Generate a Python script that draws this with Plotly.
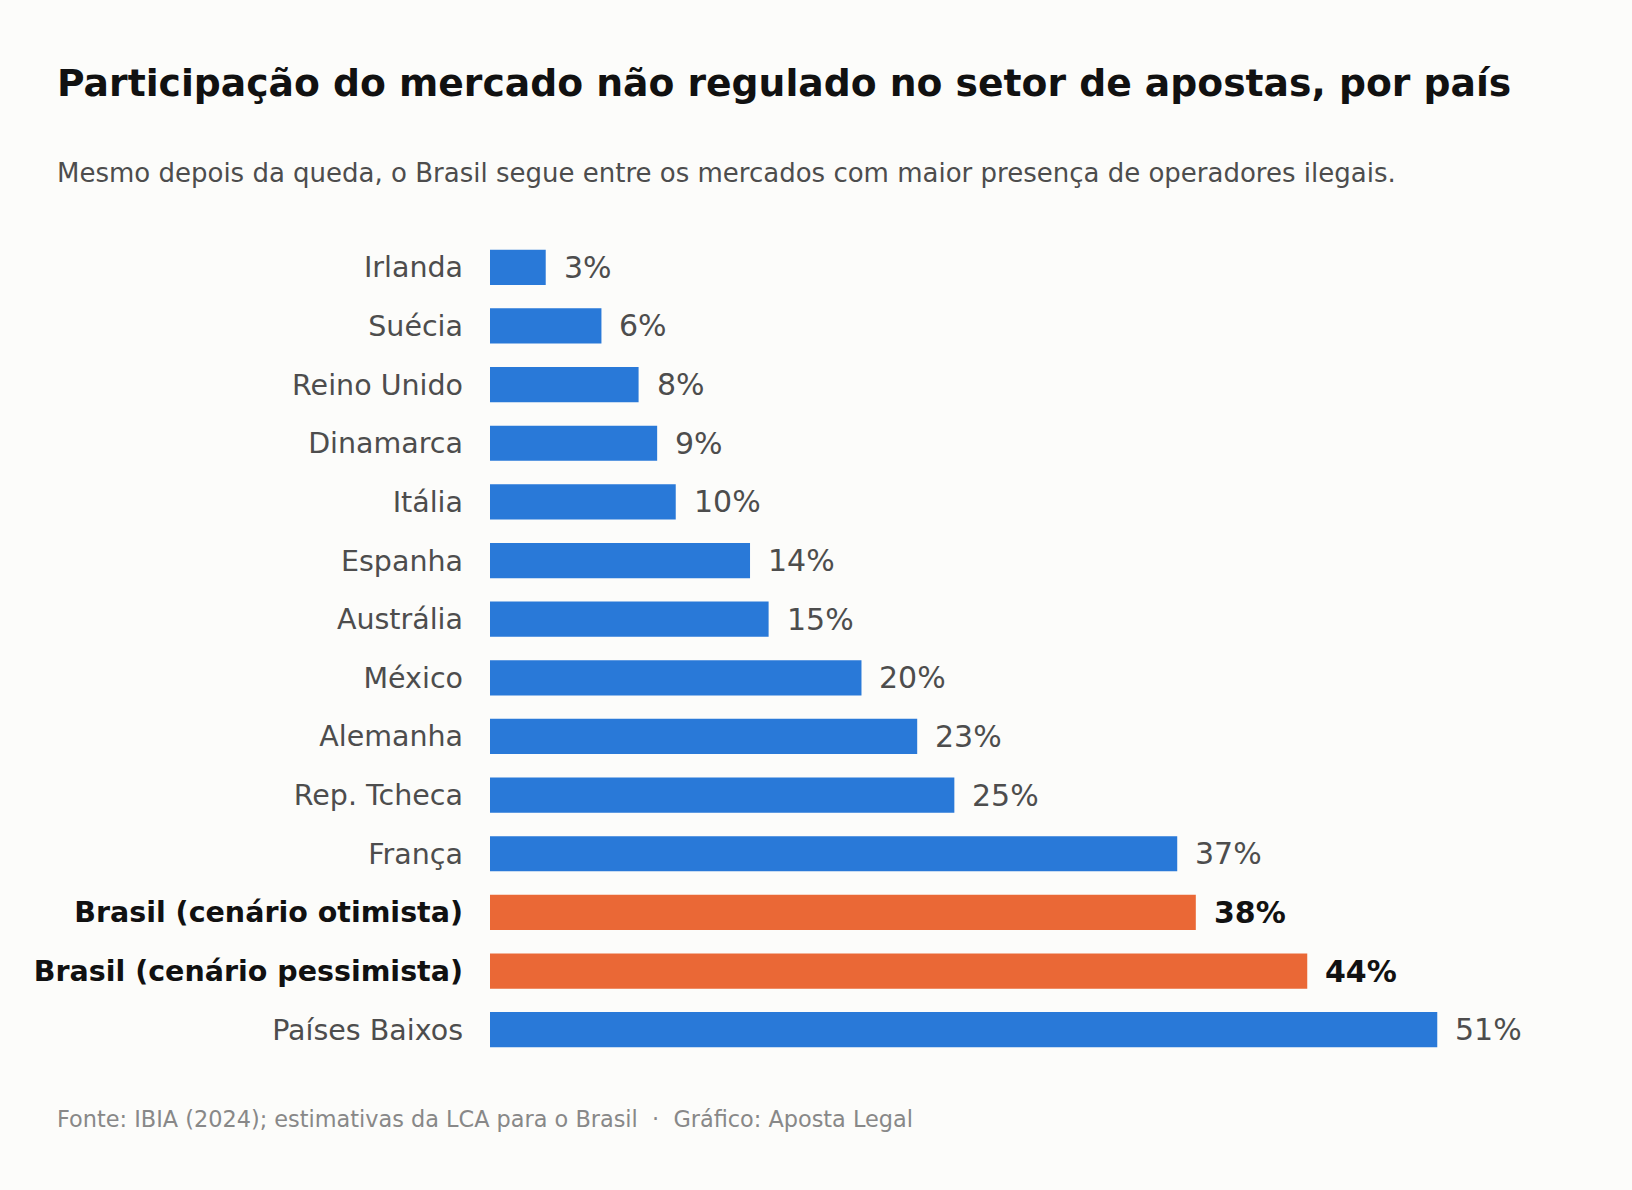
import plotly.graph_objects as go

# data, top to bottom as drawn
paises = ["Irlanda", "Suécia", "Reino Unido", "Dinamarca", "Itália", "Espanha",
          "Austrália", "México", "Alemanha", "Rep. Tcheca", "França",
          "Brasil (cenário otimista)", "Brasil (cenário pessimista)", "Países Baixos"]
valores = [3, 6, 8, 9, 10, 14, 15, 20, 23, 25, 37, 38, 44, 51]
destaque = [p.startswith("Brasil") for p in paises]

azul = "#2979d8"
laranja = "#ea6836"
cinza = "#4d4d4d"
fundo = "#fcfcfa"

cores = [laranja if d else azul for d in destaque]
ticks = [f"<b style='color:#111'>{p}</b>" if d else p for p, d in zip(paises, destaque)]

fig = go.Figure()
fig.add_trace(go.Bar(
    x=valores, y=paises, orientation="h",
    marker=dict(color=cores, line_width=0),
    width=0.6, hoverinfo="skip",
))

# value labels right of each bar
for p, v, d in zip(paises, valores, destaque):
    fig.add_annotation(
        x=v, y=p, text=f"<b>{v}%</b>" if d else f"{v}%",
        xanchor="left", xshift=16, showarrow=False,
        font=dict(size=30, color="#111" if d else cinza),
    )

fig.update_layout(
    width=1632, height=1190,
    paper_bgcolor=fundo, plot_bgcolor=fundo,
    margin=dict(l=490, r=35, t=238, b=131),
    font=dict(family="DejaVu Sans", color=cinza),
    showlegend=False,
    xaxis=dict(range=[0, 59.6], visible=False),
    yaxis=dict(
        autorange="reversed", tickmode="array", tickvals=paises, ticktext=ticks,
        tickfont=dict(size=28.5, color=cinza), ticklabelstandoff=26,
        showgrid=False, zeroline=False, showline=False, ticks="",
    ),
)

# header and footer, placed in px from the top of the page
def y_px(px):
    return 1 + (238 - px) / 821

x0 = -(490 - 55) / 1107
fig.add_annotation(
    text="<b>Participação do mercado não regulado no setor de apostas, por país</b>",
    xref="paper", yref="paper", x=x0, y=y_px(107),
    xanchor="left", yanchor="bottom", showarrow=False,
    font=dict(size=37.7, color="#111"),
)
fig.add_annotation(
    text="Mesmo depois da queda, o Brasil segue entre os mercados com maior presença de operadores ilegais.",
    xref="paper", yref="paper", x=x0, y=y_px(190),
    xanchor="left", yanchor="bottom", showarrow=False,
    font=dict(size=26, color=cinza),
)
fig.add_annotation(
    text="Fonte: IBIA (2024); estimativas da LCA para o Brasil  ·  Gráfico: Aposta Legal",
    xref="paper", yref="paper", x=x0, y=y_px(1134),
    xanchor="left", yanchor="bottom", showarrow=False,
    font=dict(size=22.4, color="#888888"),
)

fig.write_html("out.html", config={"displayModeBar": False},
               post_script="document.body.style.margin='0';document.body.style.background='#fcfcfa';")
